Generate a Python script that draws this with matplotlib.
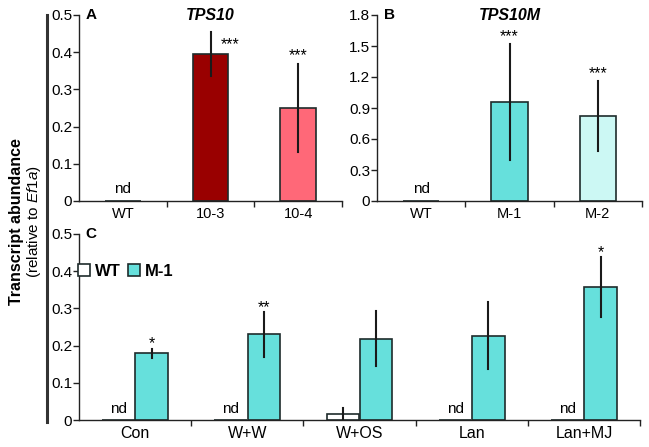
import matplotlib
matplotlib.use("Agg")
import matplotlib.pyplot as plt
from matplotlib.lines import Line2D
from matplotlib.patches import Patch
import numpy as np

plt.rcParams['font.family'] = ['Liberation Sans', 'DejaVu Sans']
plt.rcParams['mathtext.fontset'] = 'custom'
plt.rcParams['mathtext.it'] = 'Liberation Sans:italic'
plt.rcParams['mathtext.rm'] = 'Liberation Sans'

# panel A - TPS10
a_lines = ['WT', '10-3', '10-4']
a_vals = [0.0, 0.395, 0.25]
a_err = [0.0, 0.06, 0.117]
a_stars = ['', '***', '***']
a_colors = ['white', '#990000', '#ff6878']

# panel B - TPS10M
b_lines = ['WT', 'M-1', 'M-2']
b_vals = [0.0, 0.96, 0.82]
b_err = [0.0, 0.56, 0.34]
b_stars = ['', '***', '***']
b_colors = ['white', '#66e0dc', '#ccf8f4']

# panel C - treatments
c_treat = ['Con', 'W+W', 'W+OS', 'Lan', 'Lan+MJ']
c_wt = [0.0, 0.0, 0.016, 0.0, 0.0]
c_wt_err = [0.0, 0.0, 0.016, 0.0, 0.0]
c_wt_nd = [True, True, False, True, True]
c_m1 = [0.18, 0.23, 0.218, 0.227, 0.357]
c_m1_err = [0.012, 0.06, 0.074, 0.09, 0.08]
c_stars = ['*', '**', '', '', '*']

edge = '#1e2b2b'
errc = '#1a1a1a'
fs = 10

fig = plt.figure(figsize=(6.49, 4.47), dpi=100)
axA = fig.add_axes([79/649, 1-201/447, 263/649, 186/447])
axB = fig.add_axes([377/649, 1-201/447, 265/649, 186/447])
axC = fig.add_axes([79/649, 1-420/447, 561/649, 186/447])


def style(ax, n, ymax, yticks, ylabels):
    for s in ['top', 'right']:
        ax.spines[s].set_visible(False)
    for s in ['left', 'bottom']:
        ax.spines[s].set_linewidth(1.0)
        ax.spines[s].set_color('#222222')
    ax.set_xlim(-0.5, n - 0.5)
    ax.set_ylim(0, ymax)
    ax.set_yticks(yticks)
    ax.set_yticklabels(ylabels, fontsize=fs + 1)
    ax.tick_params(axis='y', length=4, width=1, pad=1, color='#222222')
    ax.set_xticks(np.arange(n))
    ax.set_xticks(np.arange(n) + 0.5, minor=True)
    ax.tick_params(axis='x', which='major', length=0, pad=4)
    ax.tick_params(axis='x', which='minor', length=4, width=1, color='#222222')


def simple_panel(ax, names, vals, errs, stars, colors, ymax, yticks, ylabels,
                 letter, title, star_pad, star_dx):
    x = np.arange(len(names))
    ax.bar(x, vals, width=0.41, color=colors, edgecolor=edge, linewidth=1.2, zorder=2)
    for xi, v, e in zip(x, vals, errs):
        if e > 0:
            ax.plot([xi, xi], [v - e, v + e], color=errc, lw=1.5, zorder=3)
    for xi, v, e, s, dx in zip(x, vals, errs, stars, star_dx):
        if s:
            ax.text(xi + dx, v + e + star_pad, s, ha='center', va='center', fontsize=fs + 1.5)
    ax.text(0, ymax * 0.025, 'nd', ha='center', va='bottom', fontsize=fs + 1)
    style(ax, len(names), ymax, yticks, ylabels)
    ax.set_xticklabels(names, fontsize=fs + 0.5)
    ax.text(0.025, 1.0, letter, transform=ax.transAxes, fontsize=fs + 1,
            fontweight='bold', va='center', ha='left')
    ax.text(0.5, 1.0, title, transform=ax.transAxes, fontsize=fs + 1.5,
            fontweight='bold', style='italic', va='center', ha='center')


simple_panel(axA, a_lines, a_vals, a_err, a_stars, a_colors, 0.5,
             [0, 0.1, 0.2, 0.3, 0.4, 0.5], ['0', '0.1', '0.2', '0.3', '0.4', '0.5'],
             'A', 'TPS10', 0.025, [0, 0.22, 0])
# the 10-3 stars sit beside the error bar, not above it
axA.texts[0].set_position((1.22, 0.42))

simple_panel(axB, b_lines, b_vals, b_err, b_stars, b_colors, 1.8,
             [0, 0.3, 0.6, 0.9, 1.2, 1.5, 1.8],
             ['0', '0.3', '0.6', '0.9', '1.2', '1.5', '1.8'],
             'B', 'TPS10M', 0.07, [0, 0, 0])

# panel C
x = np.arange(len(c_treat))
w = 0.29
off = 0.148
axC.bar(x - off, c_wt, width=w, color='white', edgecolor=edge, linewidth=1.2, zorder=2)
axC.bar(x + off, c_m1, width=w, color='#66e0dc', edgecolor=edge, linewidth=1.2, zorder=2)
for xi, v, e in zip(x, c_wt, c_wt_err):
    if e > 0:
        axC.plot([xi - off, xi - off], [v - e, v + e], color=errc, lw=1.5, zorder=3)
for xi, v, e in zip(x, c_m1, c_m1_err):
    axC.plot([xi + off, xi + off], [v - e, v + e], color=errc, lw=1.5, zorder=3)
for xi, v, e, s in zip(x, c_m1, c_m1_err, c_stars):
    if s:
        axC.text(xi + off, v + e + 0.012, s, ha='center', va='center', fontsize=fs + 1.5)
for xi, nd in zip(x, c_wt_nd):
    if nd:
        axC.text(xi - off, 0.01, 'nd', ha='center', va='bottom', fontsize=fs + 1)
style(axC, len(c_treat), 0.5, [0, 0.1, 0.2, 0.3, 0.4, 0.5],
      ['0', '0.1', '0.2', '0.3', '0.4', '0.5'])
axC.set_xticklabels(c_treat, fontsize=fs + 1.5)
axC.text(0.012, 1.0, 'C', transform=axC.transAxes, fontsize=fs + 1,
         fontweight='bold', va='center', ha='left')
handles = [Patch(facecolor='white', edgecolor=edge, linewidth=1.2, label='WT'),
           Patch(facecolor='#66e0dc', edgecolor=edge, linewidth=1.2, label='M-1')]
axC.legend(handles=handles, loc='center left', bbox_to_anchor=(-0.002, 0.8),
           ncol=2, frameon=False, handlelength=0.75, handleheight=0.75,
           handletextpad=0.25, columnspacing=0.45, borderpad=0, borderaxespad=0,
           prop={'weight': 'bold', 'size': fs + 2})

# bracket line and shared y label
fig.add_artist(Line2D([47/649, 47/649], [1-15/447, 1-422/447], color='#333333',
                      lw=2.2, transform=fig.transFigure))
fig.text(17/649, 0.5 - (222-223.5)/447, 'Transcript abundance', rotation=90,
         ha='center', va='center', fontsize=fs + 1.5, fontweight='bold')
fig.text(34/649, 0.5 - (222-223.5)/447, r'(relative to $\mathit{Ef1a}$)', rotation=90,
         ha='center', va='center', fontsize=fs + 1)

fig.savefig('out.png', dpi=100)
